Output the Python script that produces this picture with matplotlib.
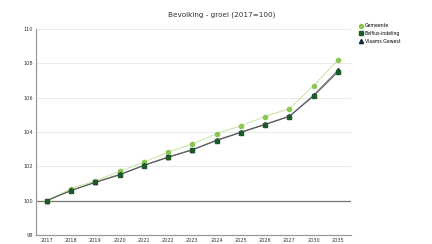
import matplotlib
matplotlib.use("Agg")
import matplotlib.pyplot as plt

years = ["2017", "2018", "2019", "2020", "2021", "2022", "2023",
         "2024", "2025", "2026", "2027", "2030", "2035"]
gemeente = [100.0, 100.7, 101.15, 101.7, 102.25, 102.82, 103.3,
            103.9, 104.37, 104.9, 105.36, 106.7, 108.2]
belfius = [100.0, 100.58, 101.06, 101.5, 102.04, 102.52, 102.95,
           103.5, 103.97, 104.43, 104.9, 106.1, 107.5]
vlaams = [100.0, 100.6, 101.08, 101.53, 102.07, 102.55, 102.98,
          103.53, 104.0, 104.46, 104.93, 106.15, 107.6]
y_ticks = [98, 100, 102, 104, 106, 108, 110]

fig = plt.figure(figsize=(4.32, 2.44), dpi=100)
ax = fig.add_axes([0.083, 0.037, 0.73, 0.844])

x = range(len(years))
ax.plot(x, gemeente, color="#c5e3a0", lw=0.7, marker="o", ms=3.0,
        mfc="#8cc652", mec="#8cc652", label="Gemeente", zorder=3)
ax.plot(x, vlaams, color="#777777", lw=0.7, marker="^", ms=3.0,
        mfc="#10293a", mec="#10293a", label="Vlaams Gewest", zorder=4)
ax.plot(x, belfius, color="#555555", lw=0.7, marker="s", ms=2.8,
        mfc="#1d5a2a", mec="#1d5a2a", label="Belfius-indeling", zorder=5)

ax.set_ylim(98, 110)
ax.set_xlim(-0.45, len(years) - 0.45)
ax.set_yticks(y_ticks)
ax.set_xticks(list(x))
ax.set_xticklabels(years)
ax.tick_params(axis="both", length=0, labelsize=3.6, colors="#333333", pad=2)

for v in y_ticks:
    if v == 100:
        ax.axhline(v, color="#777777", lw=0.9, zorder=1)
    elif v != 98:
        ax.axhline(v, color="#e6e6e6", lw=0.6, zorder=0)

for s in ["top", "right"]:
    ax.spines[s].set_visible(False)
ax.spines["left"].set_color("#999999")
ax.spines["bottom"].set_color("#999999")
ax.spines["left"].set_linewidth(0.9)
ax.spines["bottom"].set_linewidth(0.9)

fig.text(0.514, 0.94, "Bevolking - groei (2017=100)", ha="center",
         va="center", fontsize=5.2, color="#333333")

handles, labels = ax.get_legend_handles_labels()
order = [0, 2, 1]
leg = fig.legend([handles[i] for i in order], [labels[i] for i in order],
                 loc="upper left", bbox_to_anchor=(0.834, 0.905),
                 frameon=False, fontsize=3.3, handlelength=0.5,
                 handletextpad=0.5, labelspacing=0.6, borderaxespad=0,
                 borderpad=0)
for h in leg.legend_handles:
    h.set_linestyle("none")

fig.savefig("out.png", dpi=100)
